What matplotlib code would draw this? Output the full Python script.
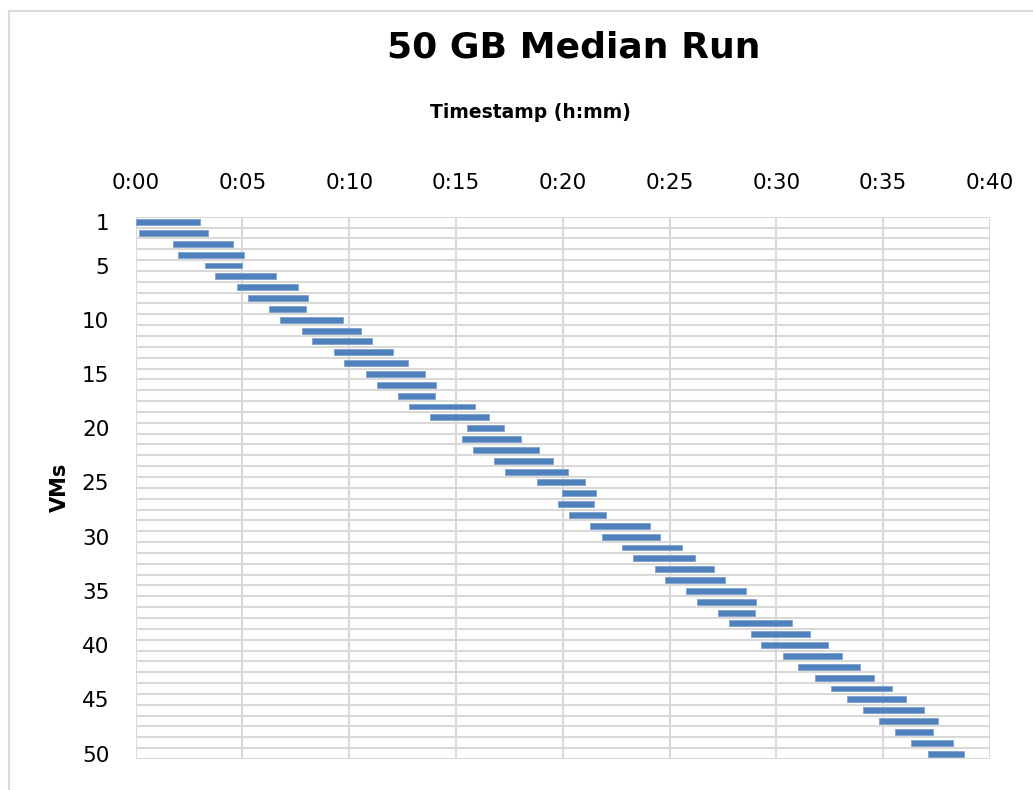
import matplotlib
matplotlib.use('Agg')
import matplotlib.pyplot as plt
from matplotlib.patches import Rectangle
import numpy as np

# VM start / end times in minutes after 0:00
vm_ids = list(range(1, 51))
start_min = [0.02, 0.17, 1.73, 1.98, 3.23, 3.73, 4.73, 5.27, 6.25, 6.77,
             7.77, 8.27, 9.27, 9.77, 10.78, 11.28, 12.28, 12.80, 13.78, 15.50,
             15.30, 15.79, 16.79, 17.29, 18.80, 19.98, 19.78, 20.30, 21.29, 21.81,
             22.79, 23.30, 24.30, 24.78, 25.78, 26.28, 27.28, 27.79, 28.79, 29.28,
             30.30, 31.03, 31.80, 32.55, 33.31, 34.06, 34.81, 35.56, 36.31, 37.08]
end_min = [3.02, 3.38, 4.55, 5.05, 5.00, 6.56, 7.59, 8.08, 7.98, 9.72,
           10.56, 11.06, 12.06, 12.73, 13.56, 14.06, 14.03, 15.91, 16.56, 17.25,
           18.06, 18.90, 19.55, 20.23, 21.04, 21.57, 21.48, 22.01, 24.07, 24.56,
           25.56, 26.21, 27.06, 27.59, 28.58, 29.06, 29.00, 30.71, 31.55, 32.41,
           33.08, 33.92, 34.56, 35.41, 36.06, 36.91, 37.58, 37.31, 38.28, 38.80]

x_ticks = [0, 5, 10, 15, 20, 25, 30, 35, 40]
x_tick_labels = ['0:00', '0:05', '0:10', '0:15', '0:20', '0:25', '0:30', '0:35', '0:40']
y_tick_vms = [1, 5, 10, 15, 20, 25, 30, 35, 40, 45, 50]

W, H = 1033, 790
fig = plt.figure(figsize=(W / 100, H / 100), dpi=100)

# light chart-area border (Excel style), open to the right and bottom
fig.patches.append(Rectangle((9 / W, -0.1), 2.0, 1 - 11 / H + 0.1,
                             transform=fig.transFigure, fill=False,
                             edgecolor='#d9d9d9', linewidth=1.5))

ax = fig.add_axes([135.7 / W, 1 - 759 / H, (990 - 135.7) / W, (759 - 216.7) / H])

durations = np.array(end_min) - np.array(start_min)
ax.barh(vm_ids, durations, left=start_min, height=0.55,
        color='#4f81bd', edgecolor='#7fa2cf', linewidth=0.6, zorder=3)

ax.set_xlim(0, 40)
ax.set_ylim(50.5, 0.5)

ax.xaxis.tick_top()
ax.set_xticks(x_ticks)
ax.set_xticklabels(x_tick_labels)
ax.set_yticks(y_tick_vms)
ax.set_yticklabels([str(v) for v in y_tick_vms])
ax.tick_params(axis='both', length=0, labelsize=15.5, colors='black')
ax.tick_params(axis='x', pad=17)
ax.tick_params(axis='y', pad=19)

# gridlines: vertical at every 5 min, horizontal between every VM row
for xv in x_ticks:
    ax.axvline(xv, color='#d9d9d9', linewidth=1.5, zorder=1)
for yv in np.arange(0.5, 51, 1.0):
    ax.axhline(yv, color='#d9d9d9', linewidth=1.5, zorder=1)

for s in ax.spines.values():
    s.set_visible(False)

fig.text(574 / W, 1 - 48 / H, '50 GB Median Run', ha='center', va='center',
         fontsize=26, fontweight='bold')
fig.text(530 / W, 1 - 112 / H, 'Timestamp (h:mm)', ha='center', va='center',
         fontsize=13.5, fontweight='bold')
fig.text(60 / W, 1 - 487 / H, 'VMs', ha='center', va='center', rotation=90,
         fontsize=15, fontweight='bold')

fig.savefig('out.png', dpi=100)
plt.close(fig)
